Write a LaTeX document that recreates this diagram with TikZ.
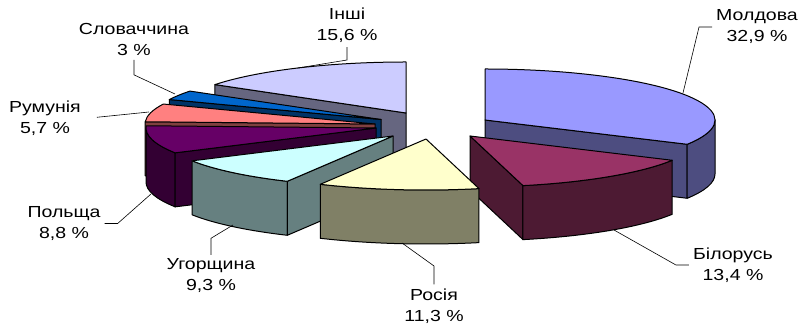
\documentclass[tikz,border=0pt]{standalone}
\usepackage{fontspec}
\newfontfamily\chartfont{Liberation Sans}[FakeStretch=1.22]
\definecolor{moldtop}{HTML}{9999FF}
\definecolor{moldside}{HTML}{4D4D80}
\definecolor{biltop}{HTML}{993366}
\definecolor{bilside}{HTML}{4D1A33}
\definecolor{rostop}{HTML}{FFFFCC}
\definecolor{rosside}{HTML}{808066}
\definecolor{uhtop}{HTML}{CCFFFF}
\definecolor{uhside}{HTML}{668080}
\definecolor{poltop}{HTML}{660066}
\definecolor{polside}{HTML}{330033}
\definecolor{rumtop}{HTML}{FF8080}
\definecolor{rumside}{HTML}{804040}
\definecolor{slotop}{HTML}{0066CC}
\definecolor{sloside}{HTML}{003366}
\definecolor{intop}{HTML}{CCCCFF}
\definecolor{inside}{HTML}{666680}
% apex, from, to, colour
\newcommand\pietop[4]{\filldraw[slice,fill=#4] (#1) -- ++(#2:230pt and 51pt) arc[start angle=#2,end angle=#3,x radius=230pt,y radius=51pt] -- cycle;}
\newcommand\pieside[4]{\filldraw[slice,fill=#4] (#1) ++(#2:230pt and 51pt) arc[start angle=#2,end angle=#3,x radius=230pt,y radius=51pt] -- ++(0,-54pt) arc[start angle=#3,end angle=#2,x radius=230pt,y radius=51pt] -- cycle;}
% apex, angle, colour
\newcommand\pieface[3]{\filldraw[slice,fill=#3] (#1) -- ++(#2:230pt and 51pt) -- ++(0,-54pt) -- ([yshift=-54pt]#1) -- cycle;}
\begin{document}
\begin{tikzpicture}[x=1pt,y=1pt,
  slice/.style={draw=black,line width=1pt,line join=round},
  leader/.style={draw=black,line width=0.6pt},
  lbl/.style={font=\chartfont\fontsize{16}{21}\selectfont,align=center,inner sep=4pt}]
\useasboundingbox (0,0) rectangle (798,326);
\coordinate (cMold) at (485,206);
\coordinate (cBil) at (470,190);
\coordinate (cRos) at (426,187);
\coordinate (cUh) at (393,190);
\coordinate (cPol) at (376,198);
\coordinate (cRum) at (375,202);
\coordinate (cSlo) at (381,206.5);
\coordinate (cIn) at (406,213);
% back slices first
\pieface{cIn}{146.16}{inside}
\pietop{cIn}{90}{146.16}{intop}
\pieface{cSlo}{156.96}{sloside}
\pietop{cSlo}{146.16}{156.96}{slotop}
\pieface{cRum}{177.48}{rumside}
\pietop{cRum}{156.96}{177.48}{rumtop}
\pieside{cPol}{-180}{-150.84}{polside}
\pieface{cPol}{-150.84}{polside}
\pietop{cPol}{-182.52}{-150.84}{poltop}
\pieface{cMold}{-28.44}{moldside}
\pieside{cMold}{-28.44}{0}{moldside}
\pietop{cMold}{-28.44}{90}{moldtop}
\pieside{cUh}{-150.84}{-117.36}{uhside}
\pieface{cUh}{-117.36}{uhside}
\pietop{cUh}{-150.84}{-117.36}{uhtop}
\pieface{cBil}{-76.68}{bilside}
\pieside{cBil}{-76.68}{-28.44}{bilside}
\pietop{cBil}{-76.68}{-28.44}{biltop}
\pieside{cRos}{-117.36}{-76.68}{rosside}
\pietop{cRos}{-117.36}{-76.68}{rostop}
% labels
\node[lbl] (moldova) at (757,299) {Молдова\\32,9 \%};
\node[lbl] (bilorus) at (733,61) {Білорусь\\13,4 \%};
\node[lbl] (rosiya) at (434,20) {Росія\\11,3 \%};
\node[lbl] (uhor) at (211,50) {Угорщина\\9,3 \%};
\node[lbl] (polshcha) at (64,102.5) {Польща\\8,8 \%};
\node[lbl] (rumunia) at (45,207.5) {Румунія\\5,7 \%};
\node[lbl] (slovach) at (134,286.5) {Словаччина\\3 \%};
\node[lbl] (inshi) at (347,300.5) {Інші\\15,6 \%};
\coordinate (moldovaEnd) at (683,233);
\coordinate (bilorusEnd) at (614,96);
\coordinate (rosiyaEnd) at (402,83);
\coordinate (uhorEnd) at (233,101);
\coordinate (polshchaEnd) at (151,132);
\coordinate (rumuniaEnd) at (149,214);
\coordinate (slovachEnd) at (175,232);
\coordinate (inshiEnd) at (298,258);
\draw[leader] (moldova.west) -- ++(-13,0) -- (moldovaEnd);
\draw[leader] (bilorus.west) -- ++(-13,0) -- (bilorusEnd);
\draw[leader] (rosiya.north) -- ++(0,18.5) -- (rosiyaEnd);
\draw[leader] (uhor.north) -- ++(0,16.5) -- (uhorEnd);
\draw[leader] (polshcha.east) -- ++(13,0) -- (polshchaEnd);
\draw[leader,shorten <=12pt] (rumunia.east) -- (rumuniaEnd);
\draw[leader] (slovach.south) -- ++(0,-15) -- (slovachEnd);
\draw[leader] (inshi.south) -- ++(0,-13) -- (inshiEnd);
\end{tikzpicture}
\end{document}
